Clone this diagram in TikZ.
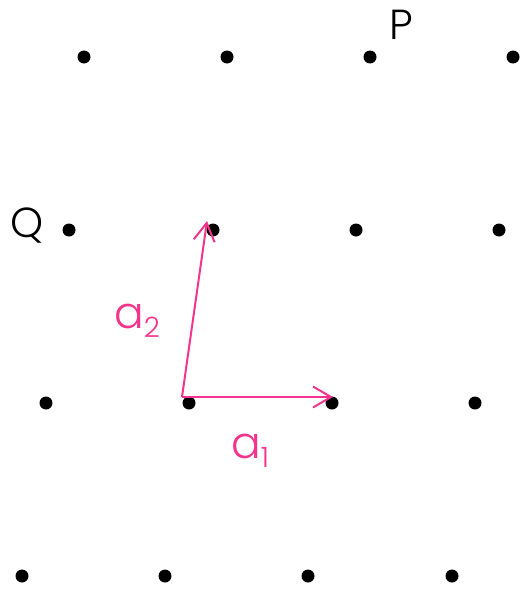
\documentclass[tikz,border=0pt]{standalone}
\usepackage{fontspec}
\setmainfont{Poppins Light}
\usetikzlibrary{arrows.meta}
\definecolor{vecpink}{RGB}{244,52,140}
\begin{document}
\begin{tikzpicture}[x=1pt,y=-1pt,
  dot/.style={circle,fill=black,inner sep=0pt,minimum size=13pt},
  vec/.style={draw=vecpink,line width=2pt,-{Straight Barb[length=18pt,width=21pt,line width=2pt]}},
  lbl/.style={inner sep=0pt,anchor=base west,font=\fontsize{42}{48}\selectfont},
  vlbl/.style={lbl,text=vecpink,font=\fontsize{44}{50}\selectfont}]
\useasboundingbox (0,0) rectangle (527,589);
% row 1
\node[dot] (r1a) at (84,57) {};
\node[dot] (r1b) at (227,57) {};
\node[dot] (r1c) at (370,57) {};
\node[dot] (r1d) at (513,57) {};
% row 2
\node[dot] (r2a) at (69,230) {};
\node[dot] (r2b) at (213,230) {};
\node[dot] (r2c) at (356,230) {};
\node[dot] (r2d) at (499,230) {};
% row 3
\node[dot] (r3a) at (46,403) {};
\node[dot] (r3b) at (189,403) {};
\node[dot] (r3c) at (332,403) {};
\node[dot] (r3d) at (475,403) {};
% row 4
\node[dot] (r4a) at (22,576) {};
\node[dot] (r4b) at (165,576) {};
\node[dot] (r4c) at (308,576) {};
\node[dot] (r4d) at (452,576) {};
% vectors
\coordinate (o) at (182,397);
\coordinate (t1) at (333,397);
\coordinate (t2) at (207,221);
\draw[vec] (o) -- (t1);
\draw[vec] (o) -- (t2);
% labels
\node[lbl] (P) at (389,39) {P};
\node[lbl] (Q) at (10,237) {Q};
\node[vlbl] (a1) at (231,458) {a\raisebox{-9pt}{\fontsize{28}{32}\selectfont 1}};
\node[vlbl] (a2) at (114,328) {a\raisebox{-9pt}{\fontsize{28}{32}\selectfont 2}};
\end{tikzpicture}
\end{document}
